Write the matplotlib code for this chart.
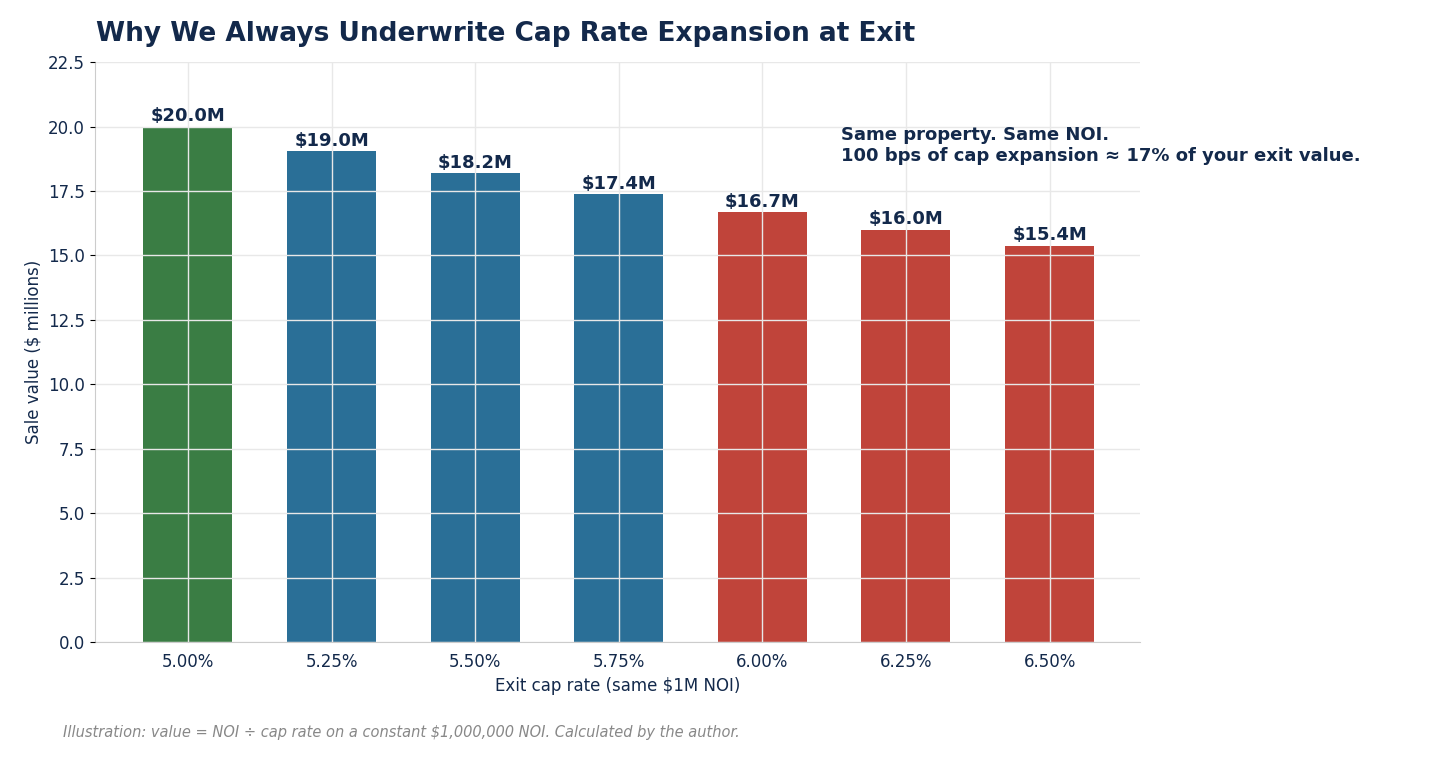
import matplotlib.pyplot as plt

cap_labels = ['5.00%', '5.25%', '5.50%', '5.75%', '6.00%', '6.25%', '6.50%']
sale_values = [20.0, 19.05, 18.18, 17.39, 16.67, 16.0, 15.38]
value_labels = ['$20.0M', '$19.0M', '$18.2M', '$17.4M', '$16.7M', '$16.0M', '$15.4M']
bar_colors = ['#3a7d44', '#2a6f97', '#2a6f97', '#2a6f97', '#c0443a', '#c0443a', '#c0443a']

navy = '#13294b'

fig = plt.figure(figsize=(14.56, 7.58), dpi=100)
ax = fig.add_axes([0.065, 0.153, 0.718, 0.765])

x = range(len(cap_labels))
ax.bar(x, sale_values, width=0.62, color=bar_colors, zorder=1)
for i, (v, lab) in enumerate(zip(sale_values, value_labels)):
    ax.text(i, v + 0.05, lab, ha='center', va='bottom', fontsize=13,
            fontweight='bold', color=navy, zorder=3)

ax.set_xticks(list(x))
ax.set_xticklabels(cap_labels, fontsize=12, color=navy)
ax.set_xlim(-0.65, 6.63)
ax.set_ylim(0, 22.5)
ax.set_yticks([i * 2.5 for i in range(10)])
ax.tick_params(axis='y', labelsize=12, labelcolor=navy)
ax.tick_params(axis='x', length=0, pad=8)
ax.grid(True, color='#e8e8e8', linewidth=1, zorder=2)
ax.set_axisbelow(False)
for s in ['top', 'right']:
    ax.spines[s].set_visible(False)
for s in ['left', 'bottom']:
    ax.spines[s].set_color('#cccccc')

ax.set_xlabel('Exit cap rate (same $1M NOI)', fontsize=12, color=navy)
ax.set_ylabel('Sale value ($ millions)', fontsize=12, color=navy)

fig.text(0.066, 0.955, 'Why We Always Underwrite Cap Rate Expansion at Exit',
         fontsize=19, fontweight='bold', color=navy, va='center')
ax.text(4.55, 18.5, 'Same property. Same NOI.\n100 bps of cap expansion \u2248 17% of your exit value.',
        fontsize=13, fontweight='bold', color=navy, va='bottom', ha='left',
        linespacing=1.2, zorder=4)
fig.text(0.043, 0.028, 'Illustration: value = NOI \u00f7 cap rate on a constant $1,000,000 NOI. Calculated by the author.',
         fontsize=10.5, style='italic', color='#888888')

fig.savefig('out.png', dpi=100)
